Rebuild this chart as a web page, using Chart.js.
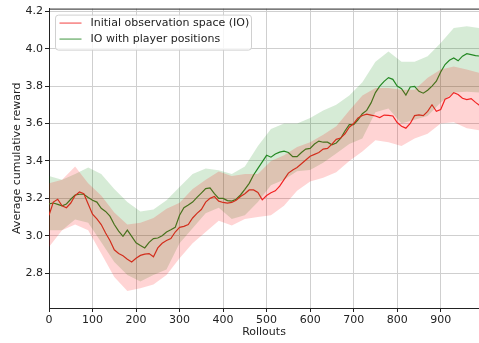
<!DOCTYPE html>
<html>
<head>
<meta charset="utf-8">
<script src="https://cdn.jsdelivr.net/npm/chart.js@4.4.1/dist/chart.umd.min.js"></script>
<style>
  body { margin: 0; background: #fff; }
  #wrap { width: 479px; height: 343px; }
</style>
</head>
<body>
<div id="wrap"><canvas id="rewardChart" width="479" height="343"></canvas></div>
<script>
// rollouts sampled every 10 for the mean curves, every 30 for the shaded bands
const rollouts = Array.from({ length: 100 }, (_, i) => i * 10);
const bandRollouts = Array.from({ length: 34 }, (_, i) => i * 30);

const seriesNames = ['Initial observation space (IO)', 'IO with player positions'];

const ioMean = [
  3.11, 3.18, 3.195, 3.16, 3.15, 3.175, 3.215, 3.234, 3.225, 3.17,
  3.115, 3.09, 3.06, 3.015, 2.975, 2.925, 2.905, 2.893, 2.875, 2.86,
  2.88, 2.895, 2.902, 2.905, 2.888, 2.935, 2.96, 2.975, 2.985, 3.02,
  3.045, 3.05, 3.06, 3.095, 3.12, 3.14, 3.18, 3.2, 3.21, 3.185,
  3.178, 3.175, 3.178, 3.19, 3.21, 3.225, 3.245, 3.245, 3.232, 3.192,
  3.215, 3.23, 3.24, 3.265, 3.3, 3.335, 3.352, 3.365, 3.385, 3.405,
  3.425, 3.435, 3.445, 3.463, 3.467, 3.49, 3.515, 3.522, 3.545, 3.58,
  3.6, 3.63, 3.643, 3.65, 3.645, 3.64, 3.632, 3.645, 3.643, 3.64,
  3.605, 3.585, 3.575, 3.6, 3.642, 3.646, 3.642, 3.665, 3.7, 3.665,
  3.675, 3.73, 3.74, 3.765, 3.755, 3.735, 3.728, 3.733, 3.713, 3.695
];
const playerMean = [
  3.17, 3.175, 3.168, 3.16, 3.17, 3.195, 3.218, 3.222, 3.222, 3.205,
  3.19, 3.18, 3.147, 3.13, 3.105, 3.06, 3.025, 2.997, 3.03, 2.997,
  2.962, 2.948, 2.935, 2.965, 2.985, 2.988, 3.0, 3.02, 3.032, 3.045,
  3.11, 3.15, 3.164, 3.18, 3.205, 3.228, 3.252, 3.256, 3.225, 3.2,
  3.2, 3.188, 3.185, 3.195, 3.218, 3.248, 3.28, 3.325, 3.36, 3.395,
  3.43, 3.42, 3.437, 3.447, 3.452, 3.445, 3.423, 3.423, 3.445, 3.463,
  3.467, 3.49, 3.506, 3.5, 3.5, 3.486, 3.496, 3.52, 3.56, 3.594,
  3.594, 3.62, 3.652, 3.67, 3.71, 3.765, 3.8, 3.825, 3.845, 3.836,
  3.8, 3.786, 3.752, 3.795, 3.798, 3.772, 3.762, 3.778, 3.8, 3.826,
  3.875, 3.915, 3.938, 3.95, 3.935, 3.96, 3.973, 3.968, 3.963, 3.96
];

const ioUpper = [
  3.28, 3.3, 3.37, 3.28, 3.215, 3.125, 3.06, 3.07, 3.095, 3.145,
  3.177, 3.25, 3.3, 3.344, 3.32, 3.33, 3.33, 3.4, 3.43, 3.475,
  3.5, 3.54, 3.585, 3.67, 3.75, 3.79, 3.79, 3.78, 3.78, 3.845,
  3.888, 3.905, 3.888, 3.87
];
const ioLower = [
  2.94, 3.03, 3.06, 3.03, 2.905, 2.78, 2.705, 2.72, 2.74, 2.79,
  2.88, 2.96, 3.02, 3.08, 3.055, 3.09, 3.1, 3.11, 3.16, 3.24,
  3.29, 3.31, 3.34, 3.4, 3.45, 3.51, 3.5, 3.48, 3.52, 3.545,
  3.6, 3.607, 3.575, 3.563
];
const playerUpper = [
  3.32, 3.3, 3.33, 3.365, 3.33, 3.25, 3.18, 3.13, 3.14, 3.19,
  3.26, 3.33, 3.36, 3.35, 3.33, 3.37, 3.48, 3.57, 3.6, 3.6,
  3.63, 3.67, 3.7, 3.75, 3.82, 3.93, 3.985, 3.93, 3.93, 3.96,
  4.03, 4.11, 4.12, 4.11
];
const playerLower = [
  3.03, 3.03, 3.087, 3.07, 2.965, 2.86, 2.79, 2.755, 2.79, 2.82,
  2.96, 3.04, 3.12, 3.15, 3.09, 3.11, 3.18, 3.27, 3.3, 3.345,
  3.352, 3.39, 3.44, 3.49, 3.52, 3.66, 3.68, 3.6, 3.62, 3.64,
  3.712, 3.765, 3.77, 3.765
];

const xTicks = [0, 100, 200, 300, 400, 500, 600, 700, 800, 900];
const yTicks = [2.8, 3.0, 3.2, 3.4, 3.6, 3.8, 4.0, 4.2];

const lineColors = ['#f02a2a', '#2a8a2a'];
const bandColors = ['rgba(255, 0, 0, 0.17)', 'rgba(0, 128, 0, 0.16)'];

function toPoints(xs, ys) {
  return xs.map((x, i) => ({ x: x, y: ys[i] }));
}

function bandEdge(xs, ys, fill, color) {
  return {
    data: toPoints(xs, ys),
    borderWidth: 0,
    pointRadius: 0,
    fill: fill,
    backgroundColor: color,
    borderColor: 'transparent'
  };
}

// top spine, matplotlib style
const topSpine = {
  id: 'topSpine',
  afterDraw(chart) {
    const ctx = chart.ctx;
    const a = chart.chartArea;
    ctx.save();
    ctx.strokeStyle = '#222';
    ctx.lineWidth = 1;
    ctx.beginPath();
    ctx.moveTo(a.left, a.top + 0.5);
    ctx.lineTo(a.right, a.top + 0.5);
    ctx.stroke();
    ctx.restore();
  }
};

// framed legend inside the plot, upper left
const legendBox = {
  id: 'legendBox',
  afterDraw(chart) {
    const ctx = chart.ctx;
    const a = chart.chartArea;
    const x = a.left + 6.5, y = a.top + 6.5, w = 196, h = 35;
    ctx.save();
    ctx.beginPath();
    ctx.roundRect(x, y, w, h, 3);
    ctx.fillStyle = 'rgba(255, 255, 255, 0.8)';
    ctx.fill();
    ctx.strokeStyle = '#d0d0d0';
    ctx.lineWidth = 1;
    ctx.stroke();
    ctx.font = '11px "DejaVu Sans"';
    ctx.textBaseline = 'middle';
    seriesNames.forEach((name, i) => {
      const ly = y + 8 + i * 16;
      ctx.strokeStyle = lineColors[i];
      ctx.globalAlpha = 0.6;
      ctx.lineWidth = 1.5;
      ctx.beginPath();
      ctx.moveTo(x + 4, ly);
      ctx.lineTo(x + 26, ly);
      ctx.stroke();
      ctx.globalAlpha = 1;
      ctx.fillStyle = '#222';
      ctx.fillText(name, x + 35, ly);
    });
    ctx.restore();
  }
};

const ctx = document.getElementById('rewardChart').getContext('2d');

new Chart(ctx, {
  type: 'line',
  data: {
    datasets: [
      bandEdge(bandRollouts, ioUpper, '+1', bandColors[0]),
      bandEdge(bandRollouts, ioLower, false, bandColors[0]),
      bandEdge(bandRollouts, playerUpper, '+1', bandColors[1]),
      bandEdge(bandRollouts, playerLower, false, bandColors[1]),
      {
        label: seriesNames[0],
        data: toPoints(rollouts, ioMean),
        borderColor: lineColors[0],
        borderWidth: 1.2,
        pointRadius: 0,
        fill: false
      },
      {
        label: seriesNames[1],
        data: toPoints(rollouts, playerMean),
        borderColor: lineColors[1],
        borderWidth: 1.2,
        pointRadius: 0,
        fill: false
      }
    ]
  },
  options: {
    responsive: false,
    animation: false,
    layout: { padding: { top: 5, right: 0, bottom: 0, left: 0 } },
    plugins: {
      legend: { display: false },
      tooltip: { enabled: false }
    },
    elements: { line: { tension: 0 } },
    scales: {
      x: {
        type: 'linear',
        min: 0,
        max: 988,
        afterBuildTicks: (scale) => { scale.ticks = xTicks.map(v => ({ value: v })); },
        afterFit: (scale) => { scale.height = 35; },
        ticks: {
          font: { family: 'DejaVu Sans', size: 11 },
          color: '#222',
          padding: 2,
          maxRotation: 0,
          callback: (v) => String(v)
        },
        grid: { color: '#cfcfcf', tickColor: '#222', tickLength: 4 },
        border: { color: '#222', width: 1 },
        title: {
          display: true,
          text: 'Rollouts',
          font: { family: 'DejaVu Sans', size: 11 },
          color: '#222',
          padding: { top: 0, bottom: 4 }
        }
      },
      y: {
        min: 2.614,
        max: 4.214,
        afterBuildTicks: (scale) => { scale.ticks = yTicks.map(v => ({ value: v })); },
        afterFit: (scale) => { scale.width = 49; },
        ticks: {
          font: { family: 'DejaVu Sans', size: 11 },
          color: '#222',
          padding: 2,
          callback: (v) => Number(v).toFixed(1)
        },
        grid: { color: '#cfcfcf', tickColor: '#222', tickLength: 4 },
        border: { color: '#222', width: 1 },
        title: {
          display: true,
          text: 'Average cumulative reward',
          font: { family: 'DejaVu Sans', size: 11 },
          color: '#222',
          padding: { top: 11, bottom: 0 }
        }
      }
    }
  },
  plugins: [topSpine, legendBox]
});
</script>
</body>
</html>
